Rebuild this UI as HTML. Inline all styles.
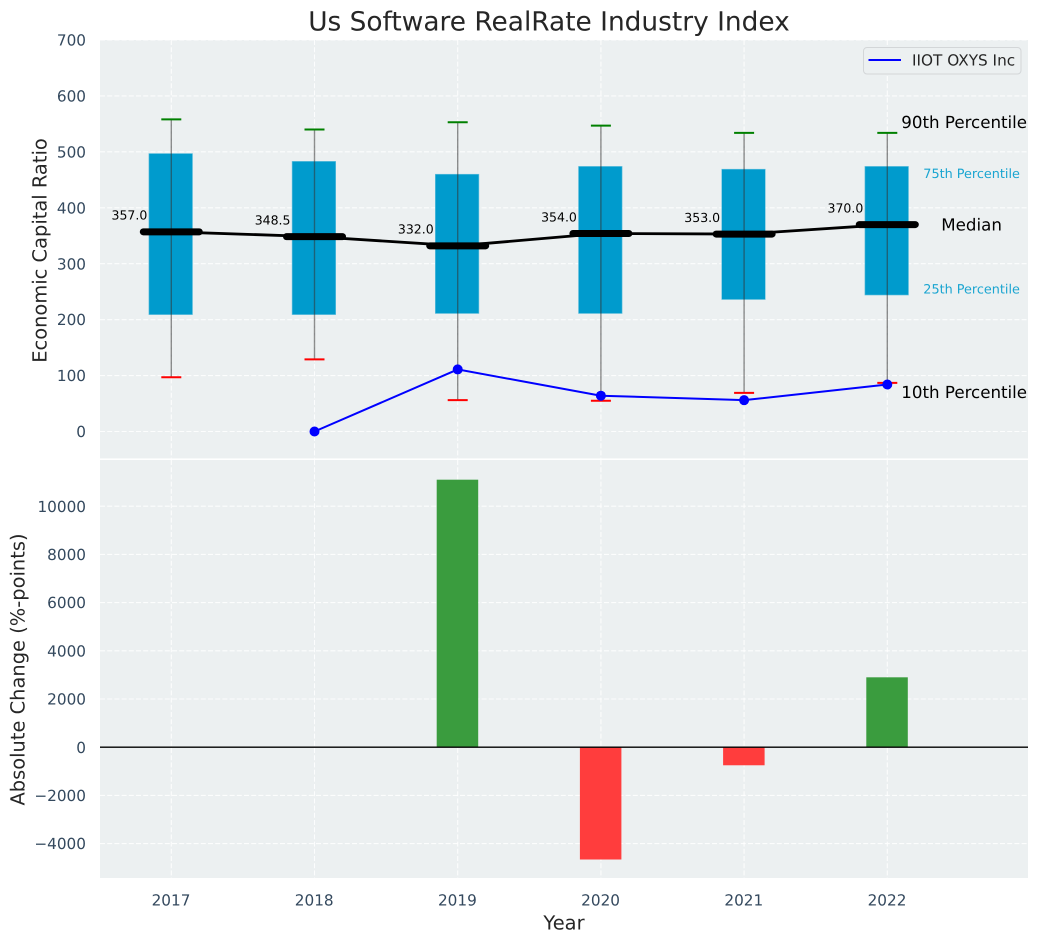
<!DOCTYPE html>
<html lang="en">
<head>
<meta charset="utf-8">
<title>Us Software RealRate Industry Index</title>
<style>
html,body{margin:0;padding:0;background:#fff;width:1039px;height:942px;overflow:hidden}
svg{display:block}
text{font-family:"DejaVu Sans","Liberation Sans",sans-serif;text-rendering:geometricPrecision}
</style>
</head>
<body>
<svg id="chart" xmlns="http://www.w3.org/2000/svg" width="1039" height="942" viewBox="0 0 1039 942"></svg>
<script>
const years = [2017, 2018, 2019, 2020, 2021, 2022];
const p90 = [558, 540, 553, 547, 534, 534];
const p75 = [497, 483, 460, 474, 469, 474];
const medians = [357, 348.5, 332, 354, 353, 370];
const p25 = [209, 209, 211, 211, 236, 244];
const p10 = [97, 129, 56, 55, 69, 87];
const companyYears = [2018, 2019, 2020, 2021, 2022];
const companyValues = [0, 111, 64, 56, 84];
const changeYears = [2019, 2020, 2021, 2022];
const changeValues = [11100, -4660, -750, 2900];
const topTicks = [0, 100, 200, 300, 400, 500, 600, 700];
const bottomTicks = [-4000, -2000, 0, 2000, 4000, 6000, 8000, 10000];

const NS = 'http://www.w3.org/2000/svg';
const svg = document.getElementById('chart');
const PLOT_L = 100, PLOT_R = 1028;
const TOP_T = 40, TOP_B = 458.4, BOT_T = 460, BOT_B = 878;

function xScale(year) { return 171.3 + 143.2 * (year - 2017); }
function yTop(v) { return 431.5 - (391.5 / 700) * v; }
function yBot(v) { return 747.2 - 0.0241 * v; }

function mk(tag, attrs, text) {
  const e = document.createElementNS(NS, tag);
  for (const k in attrs) e.setAttribute(k, attrs[k]);
  if (text !== undefined) e.textContent = text;
  svg.appendChild(e);
  return e;
}

let el;
el = mk('rect', {x: PLOT_L, y: TOP_T, width: PLOT_R - PLOT_L, height: TOP_B - TOP_T, fill: '#ecf0f1'});


el = mk('rect', {x: PLOT_L, y: BOT_T, width: PLOT_R - PLOT_L, height: BOT_B - BOT_T, fill: '#ecf0f1'});



const gridStyle = {stroke: '#ffffff', 'stroke-width': 1.1, 'stroke-dasharray': '5 2.2', 'stroke-opacity': 0.85, fill: 'none'};
const tickColor = '#34495e';
const tickSize = 15.28;

topTicks.forEach(function (t) {
  const y = yTop(t);
  let g = mk('line', Object.assign({x1: PLOT_L, x2: PLOT_R, y1: y, y2: y}, gridStyle));
  
  
  let l = mk('text', {x: 86, y: y + 5.6, 'text-anchor': 'end', 'font-size': tickSize, fill: tickColor}, String(t));
  
  
});

bottomTicks.forEach(function (t) {
  const y = yBot(t);
  let g = mk('line', Object.assign({x1: PLOT_L, x2: PLOT_R, y1: y, y2: y}, gridStyle));
  
  
  let l = mk('text', {x: 86, y: y + 5.6, 'text-anchor': 'end', 'font-size': tickSize, fill: tickColor}, String(t).replace('-', '\u2212'));
  
  
});

years.forEach(function (yr) {
  const x = xScale(yr);
  let g1 = mk('line', Object.assign({x1: x, x2: x, y1: TOP_T, y2: TOP_B}, gridStyle));
  
  
  let g2 = mk('line', Object.assign({x1: x, x2: x, y1: BOT_T, y2: BOT_B}, gridStyle));
  
  
  let l = mk('text', {x: x - 0.3, y: 905.5, 'text-anchor': 'middle', 'font-size': tickSize, fill: tickColor}, String(yr));
  
  
});

/* boxes */
years.forEach(function (yr, i) {
  const x = xScale(yr);
  const top = yTop(p75[i]), bottom = yTop(p25[i]);
  let b = mk('rect', {x: x - 22.4, y: top, width: 43.6, height: bottom - top, fill: '#009bcd', stroke: '#6cc3de', 'stroke-width': 0.6});
  
  
  let w = mk('line', {x1: x, x2: x, y1: yTop(p90[i]), y2: yTop(p10[i]), stroke: '#333333', 'stroke-opacity': 0.55, 'stroke-width': 1.4});
  
  
  let c1 = mk('line', {x1: x - 10, x2: x + 10, y1: yTop(p90[i]), y2: yTop(p90[i]), stroke: '#008000', 'stroke-width': 2});
  
  
  let c2 = mk('line', {x1: x - 10, x2: x + 10, y1: yTop(p10[i]), y2: yTop(p10[i]), stroke: '#ff0000', 'stroke-width': 2});
  
  
});

/* median trend */
const medianPts = years.map(function (yr, i) { return xScale(yr) + ',' + yTop(medians[i]); }).join(' ');
el = mk('polyline', {points: medianPts, fill: 'none', stroke: '#000000', 'stroke-width': 2.8});



years.forEach(function (yr, i) {
  const x = xScale(yr), y = yTop(medians[i]);
  let m = mk('line', {x1: x - 28, x2: x + 28, y1: y, y2: y, stroke: '#000000', 'stroke-width': 7, 'stroke-linecap': 'round'});
  
  
  let t = mk('text', {x: x - 24, y: y - 12.2, 'text-anchor': 'end', 'font-size': 12.5, fill: '#000000'}, medians[i].toFixed(1));
  
  
});

/* company line */
const companyPts = companyYears.map(function (yr, i) { return xScale(yr) + ',' + yTop(companyValues[i]); }).join(' ');
el = mk('polyline', {points: companyPts, fill: 'none', stroke: '#0000ff', 'stroke-width': 2});


companyYears.forEach(function (yr, i) {
  let p = mk('circle', {cx: xScale(yr), cy: yTop(companyValues[i]), r: 5, fill: '#0000ff'});
  
  
});

/* right-hand percentile annotations */
const last = years.length - 1;
const lastX = xScale(years[last]);
el = mk('text', {x: lastX + 14, y: yTop(p90[last]) - 5, 'font-size': 16.67, fill: '#000000'}, '90th Percentile');


el = mk('text', {x: lastX + 36, y: yTop(p75[last]) + 11.5, 'font-size': 12.8, fill: '#1aa5d1'}, '75th Percentile');


el = mk('text', {x: lastX + 54, y: yTop(medians[last]) + 6, 'font-size': 16.67, fill: '#000000'}, 'Median');


el = mk('text', {x: lastX + 36, y: yTop(p25[last]) - 1.5, 'font-size': 12.8, fill: '#1aa5d1'}, '25th Percentile');


el = mk('text', {x: lastX + 14, y: yTop(p10[last]) + 15, 'font-size': 16.67, fill: '#000000'}, '10th Percentile');



/* change bars */
changeYears.forEach(function (yr, i) {
  const v = changeValues[i];
  const y0 = yBot(0), y1 = yBot(v);
  let b = mk('rect', {x: xScale(yr) - 21, y: Math.min(y0, y1), width: 41.5, height: Math.abs(y1 - y0), fill: v >= 0 ? '#3a9c3e' : '#ff3d3d'});
  
  
});
el = mk('line', {x1: PLOT_L, x2: PLOT_R, y1: yBot(0), y2: yBot(0), stroke: '#000000', 'stroke-width': 1.4});



/* legend */
el = mk('rect', {x: 863.5, y: 47.5, width: 157.5, height: 26.5, rx: 3.5, fill: '#ecf0f1', stroke: '#d3d6d8', 'stroke-width': 1});


el = mk('line', {x1: 868.5, x2: 901, y1: 60, y2: 60, stroke: '#0000ff', 'stroke-width': 2});


el = mk('text', {x: 912, y: 65.6, 'font-size': 15.28, fill: '#262626'}, 'IIOT OXYS Inc');



/* titles */
el = mk('text', {x: 549, y: 30.5, 'text-anchor': 'middle', 'font-size': 26.4, fill: '#262626'}, 'Us Software RealRate Industry Index');


el = mk('text', {transform: 'translate(46.5,250.5) rotate(-90)', 'text-anchor': 'middle', 'font-size': 19.44, fill: '#262626'}, 'Economic Capital Ratio');


el = mk('text', {transform: 'translate(24.5,669.5) rotate(-90)', 'text-anchor': 'middle', 'font-size': 19.44, fill: '#262626'}, 'Absolute Change (%-points)');


el = mk('text', {x: 564, y: 929.5, 'text-anchor': 'middle', 'font-size': 19.44, fill: '#262626'}, 'Year');


</script>
</body>
</html>
